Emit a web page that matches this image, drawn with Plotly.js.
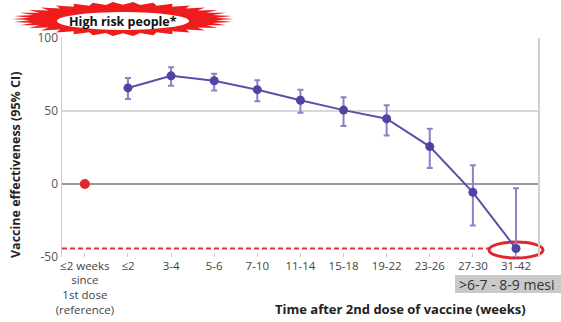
<!DOCTYPE html>
<html>
<head>
<meta charset="utf-8">
<script src="https://cdn.plot.ly/plotly-3.0.1.min.js"></script>
<style>html,body{margin:0;padding:0;background:#fff;}#chart{width:561px;height:322px;}</style>
</head>
<body>
<div id="chart"></div>
<script>
// ---- data ----
const categories = ["≤2 weeks<br>since<br>1st dose<br>(reference)", "≤2", "3-4", "5-6", "7-10", "11-14", "15-18", "19-22", "23-26", "27-30", "31-42"];
const refValue = [0];
const periods = ["≤2", "3-4", "5-6", "7-10", "11-14", "15-18", "19-22", "23-26", "27-30", "31-42"];
const effectiveness = [65.8, 74.1, 70.7, 64.6, 57.4, 50.6, 44.7, 25.6, -5.7, -44.2];
const ciUpper = [72.6, 80.0, 75.5, 71.0, 64.6, 59.4, 53.9, 37.9, 12.9, -2.9];
const ciLower = [58.3, 67.3, 64.0, 56.7, 48.8, 39.7, 33.3, 10.9, -28.4, -50.0];
const yTicks = [-50, 0, 50, 100];

// ---- geometry helpers (pixel -> paper) ----
const W = 561, H = 322, L = 62, R = 23, T = 38, B = 65;
const pw = W - L - R, ph = H - T - B;
const px = x => (x - L) / pw;
const py = y => (H - B - y) / ph;

function burstPath(cx, cy, rx, ry, n, amp) {
  let d = "";
  for (let i = 0; i < 2 * n; i++) {
    const a = Math.PI * i / n;
    const k = (i % 2 === 0) ? 1 : 1 - amp;
    const x = px(cx + rx * k * Math.cos(a));
    const y = py(cy + ry * k * Math.sin(a));
    d += (i === 0 ? "M" : "L") + x.toFixed(5) + "," + y.toFixed(5);
  }
  return d + "Z";
}

const lastIdx = effectiveness.length - 1;
const lastVal = effectiveness[lastIdx];

const traces = [
  {
    x: [categories[0]], y: refValue, type: "scatter", mode: "markers",
    marker: {color: "#e3262b", size: 10}, hoverinfo: "skip", cliponaxis: false
  },
  {
    x: categories.slice(1), y: effectiveness, type: "scatter", mode: "lines+markers",
    line: {color: "#5b50a8", width: 2},
    marker: {color: "#4f44a3", size: 9},
    error_y: {
      type: "data", symmetric: false,
      array: ciUpper.map((u, i) => u - effectiveness[i]),
      arrayminus: ciLower.map((l, i) => effectiveness[i] - l),
      color: "#8a82c6", thickness: 2, width: 3
    },
    cliponaxis: false, hoverinfo: "skip"
  }
];

const shapes = [
  // red dashed line at last value level
  {type: "line", xref: "paper", yref: "y", x0: 0, x1: px(490), y0: lastVal, y1: lastVal,
   line: {color: "#e8302a", width: 2, dash: "5px,3px"}, layer: "below"},
  // ellipse highlight around last point
  {type: "circle", xref: "paper", yref: "paper",
   x0: px(489), x1: px(543), y0: py(258), y1: py(242),
   fillcolor: "#ffffff", line: {color: "#e3262b", width: 3}, layer: "below"},
  // burst behind title label
  {type: "path", xref: "paper", yref: "paper", path: burstPath(123, 19, 111, 17, 34, 0.16),
   fillcolor: "#ee1c1c", line: {width: 0}, layer: "above"},
  {type: "circle", xref: "paper", yref: "paper",
   x0: px(57), x1: px(189), y0: py(30), y1: py(12),
   fillcolor: "#ffffff", line: {width: 0}, layer: "above"},
  // gray box
  {type: "rect", xref: "paper", yref: "paper", x0: px(455), x1: px(561), y0: py(293), y1: py(275),
   fillcolor: "#c9c9c9", line: {width: 0}, layer: "above"}
];

const annotations = [
  {text: "<b>High risk people*</b>", xref: "paper", yref: "paper", x: px(123), y: py(21),
   xanchor: "center", yanchor: "middle",
   showarrow: false, font: {family: "Open Sans, sans-serif", size: 12.5, color: "#111"}},
  {text: ">6-7 - 8-9 mesi", xref: "paper", yref: "paper", x: px(457), y: py(284),
   xanchor: "left", yanchor: "middle", showarrow: false,
   font: {family: "Open Sans, sans-serif", size: 14, color: "#333"}},
  {text: "<b>Time after 2nd dose of vaccine (weeks)</b>", xref: "paper", yref: "paper",
   x: px(400), y: py(309), xanchor: "center", yanchor: "middle", showarrow: false,
   font: {family: "Open Sans, sans-serif", size: 13, color: "#222"}},
  {text: "<b>Vaccine effectiveness (95% CI)</b>", xref: "paper", yref: "paper",
   x: px(15), y: py(165), xanchor: "center", yanchor: "middle", textangle: -90, showarrow: false,
   font: {family: "Open Sans, sans-serif", size: 12.5, color: "#222"}}
];

const layout = {
  width: W, height: H,
  margin: {l: L, r: R, t: T, b: B, pad: 0},
  paper_bgcolor: "#fff", plot_bgcolor: "#fff",
  showlegend: false,
  font: {family: "Open Sans, sans-serif", size: 11, color: "#444"},
  xaxis: {
    type: "category", categoryorder: "array", categoryarray: categories,
    range: [-0.53, 10.51], showgrid: false, zeroline: false, showline: false,
    ticks: "inside", ticklen: 4, tickcolor: "#ccc", tickwidth: 1,
    tickfont: {size: 11.5, color: "#444"}, fixedrange: true
  },
  yaxis: {
    range: [-50, 100], tickvals: yTicks, ticktext: yTicks.map(String),
    showgrid: true, gridcolor: "#d8d8d8", gridwidth: 1.5,
    zeroline: true, zerolinecolor: "#999", zerolinewidth: 1.5,
    showline: true, mirror: true, linecolor: "#cfcfcf", linewidth: 1.5,
    ticks: "", tickfont: {size: 12, color: "#555"}, fixedrange: true
  },
  shapes: shapes,
  annotations: annotations
};

Plotly.newPlot("chart", traces, layout, {staticPlot: true, displayModeBar: false});
</script>
</body>
</html>
